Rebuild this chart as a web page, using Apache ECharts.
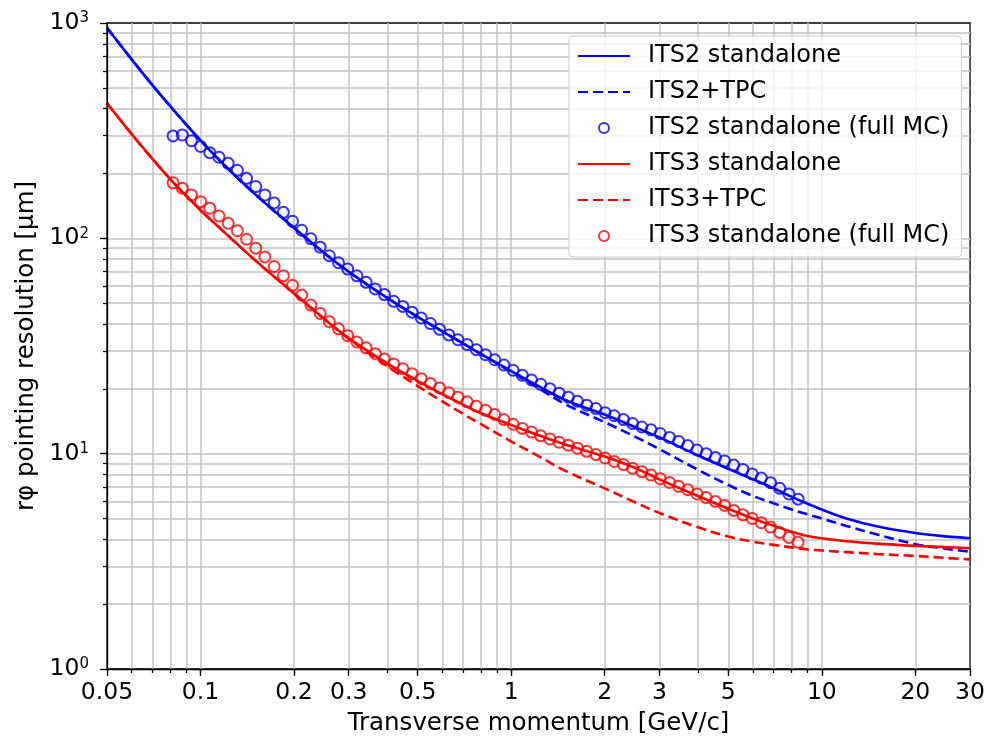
<!DOCTYPE html>
<html><head><meta charset="utf-8">
<script src="https://cdn.jsdelivr.net/npm/echarts@6/dist/echarts.min.js"></script>
<style>html,body{margin:0;padding:0;background:#fff}#c{width:988px;height:743px}</style>
</head><body><div id="c"></div>
<script>
// ---- data ----
const lineX = [0.05, 0.06, 0.07, 0.08, 0.09, 0.1, 0.12, 0.15, 0.2, 0.25, 0.3, 0.4, 0.5, 0.6, 0.7, 0.8, 1, 1.2, 1.5, 2, 2.5, 3, 4, 5, 6, 7, 8, 9, 10, 12, 15, 20, 25, 30];
const its2Standalone = [950, 678, 515, 410, 337, 285, 217, 160, 112, 85.5, 70, 52.8, 43.2, 37, 32.5, 29, 24.2, 20.9, 17.7, 15.2, 13.3, 11.9, 9.8, 8.5, 7.6, 6.9, 6.3, 5.85, 5.5, 5.0, 4.6, 4.28, 4.13, 4.05];
const its2TPC = [950, 678, 515, 410, 337, 285, 217, 160, 112, 85.5, 70, 52.8, 43.2, 37, 32.5, 29, 24.0, 20.5, 16.9, 14.0, 12.0, 10.5, 8.4, 7.15, 6.36, 5.88, 5.5, 5.22, 5.0, 4.62, 4.22, 3.8, 3.62, 3.5];
const its3Standalone = [424, 305, 234, 188, 157.5, 135, 106, 79, 55.5, 42.3, 34.4, 26.2, 21.8, 18.9, 16.9, 15.4, 13.6, 12.3, 11.0, 9.7, 8.6, 7.6, 6.35, 5.55, 5.0, 4.62, 4.34, 4.15, 4.05, 3.92, 3.82, 3.73, 3.68, 3.64];
const its3TPC = [424, 305, 234, 188, 157.5, 135, 106, 79, 55.5, 42.3, 34.2, 25.4, 20.6, 17.5, 15.3, 13.7, 11.4, 9.9, 8.3, 6.9, 5.95, 5.3, 4.55, 4.12, 3.9, 3.77, 3.67, 3.59, 3.55, 3.49, 3.42, 3.35, 3.28, 3.23];

const mcX = [0.0816, 0.0874, 0.0935, 0.1001, 0.1071, 0.1147, 0.1228, 0.1314, 0.1407, 0.1506, 0.1612, 0.1726, 0.1848, 0.1978, 0.2117, 0.2267, 0.2427, 0.2598, 0.2781, 0.2977, 0.3187, 0.3412, 0.3652, 0.3910, 0.4185, 0.4480, 0.4796, 0.5134, 0.5496, 0.5884, 0.6299, 0.6743, 0.7218, 0.7727, 0.8272, 0.8855, 0.9479, 1.0147, 1.0863, 1.1629, 1.2449, 1.3327, 1.4266, 1.5272, 1.6349, 1.7502, 1.8736, 2.0057, 2.1471, 2.2985, 2.4606, 2.6341, 2.8198, 3.0186, 3.2314, 3.4593, 3.7032, 3.9643, 4.2438, 4.5430, 4.8633, 5.2062, 5.5733, 5.9663, 6.3869, 6.8373, 7.3193, 7.8354, 8.3879];
const its2MC = [299, 302, 284, 267, 250, 238, 223, 207, 190, 174, 159, 146, 132, 120, 109, 99.5, 91, 83, 77, 72, 67, 62.5, 58.2, 54.8, 51, 48.3, 45.4, 42.7, 40.2, 37.8, 35.6, 33.8, 32.1, 30.4, 28.8, 27.3, 25.8, 24.4, 23.1, 22.0, 21.0, 20.0, 19.1, 18.3, 17.5, 16.8, 16.2, 15.5, 15.0, 14.4, 13.8, 13.3, 12.9, 12.4, 11.9, 11.4, 10.9, 10.4, 10.0, 9.6, 9.25, 8.85, 8.45, 8.05, 7.7, 7.33, 6.9, 6.5, 6.15];
const its3MC = [181, 171, 159, 148, 138, 127, 117.5, 108.5, 99, 90, 82, 74, 67, 60.5, 54.5, 49, 44.8, 41, 38, 35.3, 33, 31, 29.1, 27.5, 26.1, 24.8, 23.5, 22.3, 21.2, 20.2, 19.2, 18.3, 17.4, 16.6, 15.9, 15.2, 14.4, 13.7, 13.1, 12.6, 12.1, 11.7, 11.3, 10.95, 10.6, 10.25, 9.9, 9.55, 9.2, 8.9, 8.55, 8.25, 7.95, 7.65, 7.35, 7.05, 6.8, 6.5, 6.25, 6.0, 5.75, 5.45, 5.2, 5.0, 4.78, 4.56, 4.3, 4.08, 3.88];

const xTickLabels = [0.05, 0.1, 0.2, 0.3, 0.5, 1, 2, 3, 5, 10, 20, 30];
const xGridValues = [0.06, 0.07, 0.08, 0.09, 0.1, 0.2, 0.3, 0.4, 0.5, 0.6, 0.7, 0.8, 0.9, 1, 2, 3, 4, 5, 6, 7, 8, 9, 10, 20];
const yTickLabels = [1, 10, 100, 1000];
const yGridValues = [2, 3, 4, 5, 6, 7, 8, 9, 10, 20, 30, 40, 50, 60, 70, 80, 90, 100, 200, 300, 400, 500, 600, 700, 800, 900];

const seriesNames = ['ITS2 standalone', 'ITS2+TPC', 'ITS2 standalone (full MC)', 'ITS3 standalone', 'ITS3+TPC', 'ITS3 standalone (full MC)'];
const xTitle = 'Transverse momentum [GeV/c]';
const yTitle = 'rφ pointing resolution [μm]';

// ---- chart ----
function pairs(xs, ys) { return xs.map((x, i) => [x, ys[i]]); }
const FONT = 'DejaVu Sans';
const BLUE = '#0000ff', RED = '#ff0000';
const gridLine = { show: true, lineStyle: { color: '#c2c2c2', width: 1.5 } };
const axisBlack = { color: '#000', width: 1.3 };

function lineSeries(name, ys, color, dashed) {
  return {
    name, type: 'line', xAxisIndex: 0, yAxisIndex: 0,
    data: pairs(lineX, ys), symbol: 'none', showSymbol: false, smooth: 0.35,
    lineStyle: { color, width: 2.6, type: dashed ? [10, 5] : 'solid' },
    itemStyle: { color }, z: 3
  };
}
function mcSeries(name, ys, color) {
  return {
    name, type: 'scatter', xAxisIndex: 0, yAxisIndex: 0,
    data: pairs(mcX, ys), symbol: 'circle', symbolSize: 11,
    itemStyle: { color: 'transparent', borderColor: color, borderWidth: 2 }, z: 4
  };
}
const hiddenDot = { opacity: 0 };

const chart = echarts.init(document.getElementById('c'));
chart.setOption({
  animation: false,
  textStyle: { fontFamily: FONT, color: '#000' },
  grid: { left: 107, right: 16, top: 23, bottom: 74, show: true, borderColor: '#000', borderWidth: 1.3, backgroundColor: 'transparent' },
  xAxis: [
    {
      type: 'log', logBase: 10, min: 0.05, max: 30, position: 'bottom', z: 5,
      name: xTitle, nameLocation: 'middle', nameGap: 42,
      nameTextStyle: { fontSize: 24.5, color: '#000', fontFamily: FONT },
      axisLine: { show: true, lineStyle: axisBlack },
      axisTick: { show: true, length: 7, lineStyle: axisBlack, customValues: xTickLabels },
      axisLabel: { customValues: xTickLabels, fontSize: 23.5, color: '#000', margin: 12, fontFamily: FONT,
        formatter: v => String(+(+v).toPrecision(3)) },
      splitLine: { show: false }
    },
    {
      type: 'log', logBase: 10, min: 0.05, max: 30, position: 'bottom', z: 1,
      axisLine: { show: false },
      axisTick: { show: true, length: 4, lineStyle: axisBlack, customValues: xGridValues },
      axisLabel: { show: false },
      splitLine: gridLine
    }
  ],
  yAxis: [
    {
      type: 'log', logBase: 10, min: 1, max: 1000, position: 'left', z: 5,
      name: yTitle, nameLocation: 'middle', nameGap: 66, nameRotate: 90,
      nameTextStyle: { fontSize: 24.5, color: '#000', fontFamily: FONT },
      axisLine: { show: true, lineStyle: axisBlack },
      axisTick: { show: true, length: 7, lineStyle: axisBlack, customValues: yTickLabels },
      axisLabel: {
        customValues: yTickLabels, margin: 18, color: '#000', fontFamily: FONT,
        formatter: v => '{b|10}{s|' + Math.round(Math.log10(v)) + '}',
        rich: { b: { fontSize: 23.5, color: '#000', fontFamily: FONT }, s: { fontSize: 15, color: '#000', fontFamily: FONT, verticalAlign: 'top' } }
      },
      splitLine: { show: false }
    },
    {
      type: 'log', logBase: 10, min: 1, max: 1000, position: 'left', z: 1,
      axisLine: { show: false },
      axisTick: { show: true, length: 4, lineStyle: axisBlack, customValues: yGridValues },
      axisLabel: { show: false },
      splitLine: gridLine
    }
  ],
  legend: {
    orient: 'vertical', left: 569, top: 36, padding: [8, 12, 9, 8],
    itemWidth: 52, itemHeight: 10, itemGap: 12, selectedMode: false,
    backgroundColor: 'rgba(255,255,255,0.8)', borderColor: '#cccccc', borderWidth: 1, borderRadius: 4,
    formatter: name => '{sp|}' + name,
    textStyle: { fontSize: 24, color: '#000', lineHeight: 24, fontFamily: FONT, rich: { sp: { width: 13 } } },
    data: [
      { name: seriesNames[0], itemStyle: hiddenDot },
      { name: seriesNames[1], itemStyle: hiddenDot },
      { name: seriesNames[2] },
      { name: seriesNames[3], itemStyle: hiddenDot },
      { name: seriesNames[4], itemStyle: hiddenDot },
      { name: seriesNames[5] }
    ]
  },
  series: [
    lineSeries(seriesNames[0], its2Standalone, BLUE, false),
    lineSeries(seriesNames[1], its2TPC, BLUE, true),
    mcSeries(seriesNames[2], its2MC, BLUE),
    lineSeries(seriesNames[3], its3Standalone, RED, false),
    lineSeries(seriesNames[4], its3TPC, RED, true),
    mcSeries(seriesNames[5], its3MC, RED)
  ]
});
</script></body></html>
